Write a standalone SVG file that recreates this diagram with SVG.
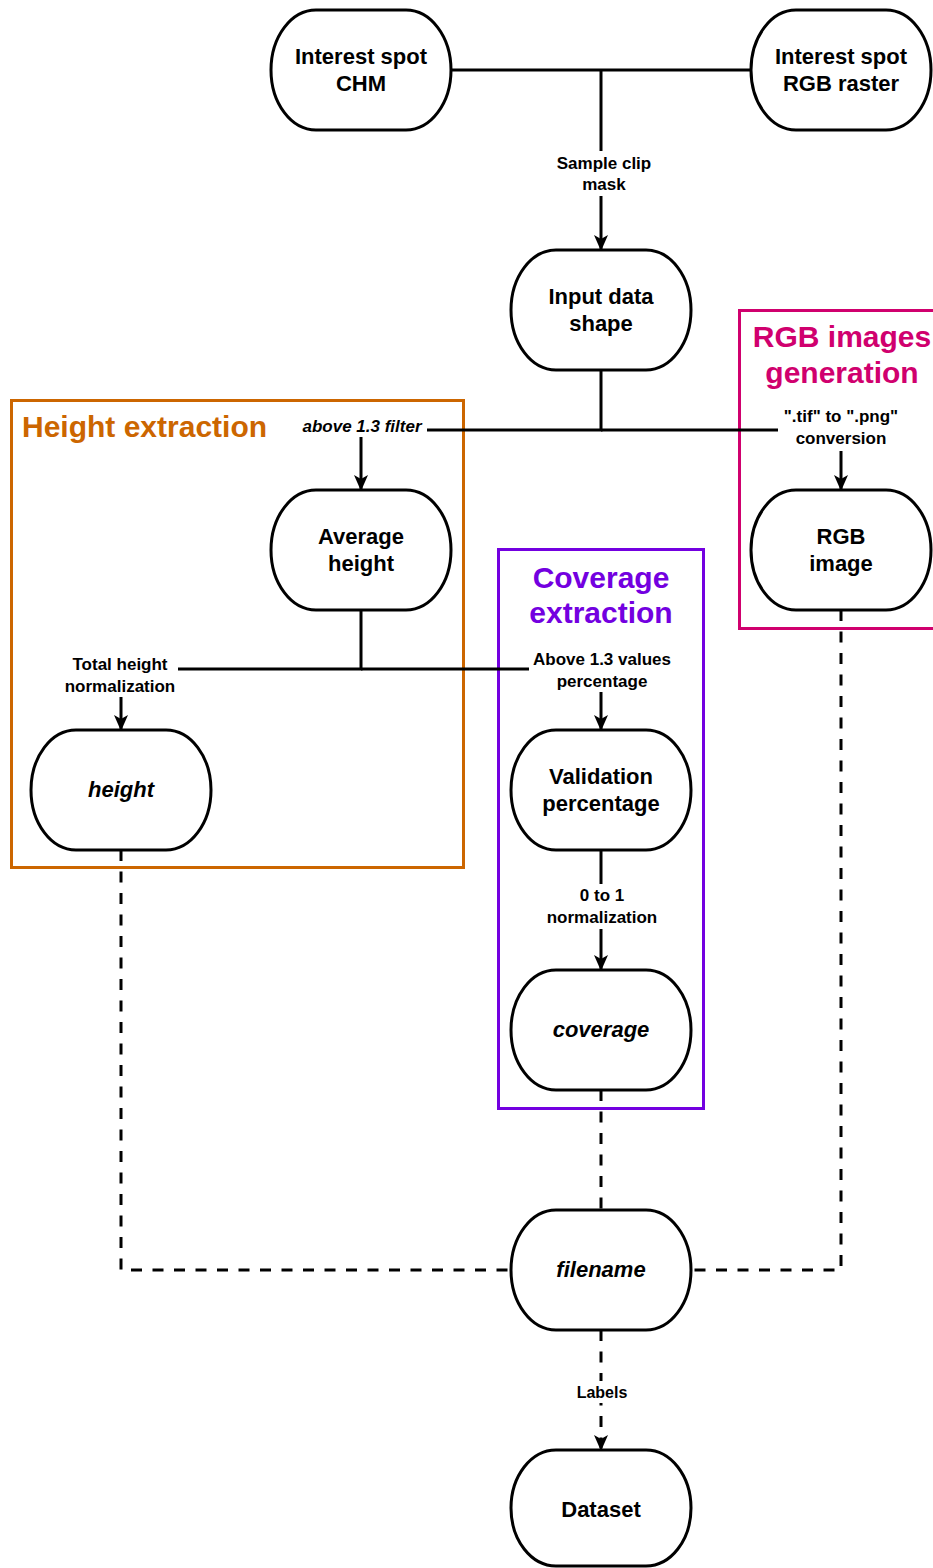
<svg xmlns="http://www.w3.org/2000/svg" width="933" height="1568" viewBox="0 0 933 1568">
  <style>
    .node rect { fill: #ffffff; stroke: #000000; stroke-width: 3; }
    .ntext { font-family: "Liberation Sans", Arial, sans-serif; font-size: 22px; font-weight: bold; fill: #000000; text-anchor: middle; }
    .ital { font-style: italic; }
    .line { fill: none; stroke: #000000; stroke-width: 3; }
    .dash { stroke-dasharray: 11 10.5; }
    .elabel { font-family: "Liberation Sans", Arial, sans-serif; font-size: 17px; font-weight: bold; fill: #000000; text-anchor: middle; }
    .lbg { fill: #ffffff; stroke: none; }
    .gbox { fill: none; stroke-width: 3; }
    .gtitle { font-family: "Liberation Sans", Arial, sans-serif; font-size: 30px; font-weight: bold; }
  </style>
  <defs>
    <marker id="arrow" viewBox="0 0 16 14" refX="15" refY="7" markerWidth="16" markerHeight="14" markerUnits="userSpaceOnUse" orient="auto">
      <path d="M0,0 L16,7 L0,14 L4,7 Z" fill="#000000"/>
    </marker>
  </defs>
  <rect x="0" y="0" width="933" height="1568" fill="#ffffff"/>

  <!-- group containers -->
  <g id="group-height">
    <rect class="gbox" x="11.5" y="400.5" width="452" height="467" stroke="#CC6600"/>
    <text class="gtitle" x="22" y="437" fill="#CC6600">Height extraction</text>
  </g>
  <g id="group-rgb">
    <rect class="gbox" x="739.5" y="310.5" width="200" height="318" stroke="#D0006E"/>
    <text class="gtitle" x="842" y="347" fill="#D0006E" text-anchor="middle">RGB images</text>
    <text class="gtitle" x="842" y="383" fill="#D0006E" text-anchor="middle">generation</text>
  </g>
  <g id="group-coverage">
    <rect class="gbox" x="498.5" y="549.5" width="205" height="559" stroke="#7300E0"/>
    <text class="gtitle" x="601" y="588" fill="#7300E0" text-anchor="middle">Coverage</text>
    <text class="gtitle" x="601" y="623" fill="#7300E0" text-anchor="middle">extraction</text>
  </g>

  <!-- connectors -->
  <g id="connectors">
    <!-- clip sources to input shape -->
    <path class="line" d="M450,70 L751,70"/>
    <path class="line" d="M601,70 L601,250" marker-end="url(#arrow)"/>
    <rect class="lbg" x="552" y="151" width="104" height="45"/>
    <text class="elabel" x="604" y="169">Sample clip</text>
    <text class="elabel" x="604" y="190">mask</text>

    <!-- input shape to average height and RGB image -->
    <path class="line" d="M601,370 L601,430 L361,430 L361,490" marker-end="url(#arrow)"/>
    <path class="line" d="M601,430 L841,430 L841,490" marker-end="url(#arrow)"/>
    <rect class="lbg" x="297" y="416" width="130" height="21"/>
    <text class="elabel ital" x="362" y="432">above 1.3 filter</text>
    <rect class="lbg" x="778" y="405" width="127" height="46"/>
    <text class="elabel" x="841" y="422">".tif" to ".png"</text>
    <text class="elabel" x="841" y="444">conversion</text>

    <!-- average height to height and validation -->
    <path class="line" d="M361,610 L361,669 L121,669 L121,730" marker-end="url(#arrow)"/>
    <path class="line" d="M361,669 L601,669 L601,730" marker-end="url(#arrow)"/>
    <rect class="lbg" x="63" y="652" width="115" height="45"/>
    <text class="elabel" x="120" y="670">Total height</text>
    <text class="elabel" x="120" y="692">normalization</text>
    <rect class="lbg" x="529" y="647" width="146" height="45"/>
    <text class="elabel" x="602" y="665">Above 1.3 values</text>
    <text class="elabel" x="602" y="687">percentage</text>

    <!-- validation to coverage -->
    <path class="line" d="M601,850 L601,970" marker-end="url(#arrow)"/>
    <rect class="lbg" x="543" y="884" width="118" height="45"/>
    <text class="elabel" x="602" y="901">0 to 1</text>
    <text class="elabel" x="602" y="923">normalization</text>

    <!-- outputs gathered by filename -->
    <path class="line dash" d="M121,850 L121,1270 L511,1270"/>
    <path class="line dash" d="M841,610 L841,1270 L691,1270"/>
    <path class="line dash" d="M601,1090 L601,1210"/>
    <path class="line dash" d="M601,1330 L601,1450" marker-end="url(#arrow)"/>
    <rect class="lbg" x="570" y="1381" width="64" height="22"/>
    <text class="elabel" x="602" y="1398" style="font-size:16px">Labels</text>
  </g>

  <!-- nodes -->
  <g id="node-chm" class="node">
    <rect x="271" y="10" width="180" height="120" rx="45" ry="60"/>
    <text class="ntext" x="361" y="64">Interest spot</text>
    <text class="ntext" x="361" y="91">CHM</text>
  </g>
  <g id="node-rgb-raster" class="node">
    <rect x="751" y="10" width="180" height="120" rx="45" ry="60"/>
    <text class="ntext" x="841" y="64">Interest spot</text>
    <text class="ntext" x="841" y="91">RGB raster</text>
  </g>
  <g id="node-input-shape" class="node">
    <rect x="511" y="250" width="180" height="120" rx="45" ry="60"/>
    <text class="ntext" x="601" y="304">Input data</text>
    <text class="ntext" x="601" y="331">shape</text>
  </g>
  <g id="node-average-height" class="node">
    <rect x="271" y="490" width="180" height="120" rx="45" ry="60"/>
    <text class="ntext" x="361" y="544">Average</text>
    <text class="ntext" x="361" y="571">height</text>
  </g>
  <g id="node-rgb-image" class="node">
    <rect x="751" y="490" width="180" height="120" rx="45" ry="60"/>
    <text class="ntext" x="841" y="544">RGB</text>
    <text class="ntext" x="841" y="571">image</text>
  </g>
  <g id="node-height" class="node">
    <rect x="31" y="730" width="180" height="120" rx="45" ry="60"/>
    <text class="ntext ital" x="121" y="797">height</text>
  </g>
  <g id="node-validation" class="node">
    <rect x="511" y="730" width="180" height="120" rx="45" ry="60"/>
    <text class="ntext" x="601" y="784">Validation</text>
    <text class="ntext" x="601" y="811">percentage</text>
  </g>
  <g id="node-coverage" class="node">
    <rect x="511" y="970" width="180" height="120" rx="45" ry="60"/>
    <text class="ntext ital" x="601" y="1037">coverage</text>
  </g>
  <g id="node-filename" class="node">
    <rect x="511" y="1210" width="180" height="120" rx="45" ry="60"/>
    <text class="ntext ital" x="601" y="1277">filename</text>
  </g>
  <g id="node-dataset" class="node">
    <rect x="511" y="1450" width="180" height="116" rx="45" ry="58"/>
    <text class="ntext" x="601" y="1517">Dataset</text>
  </g>
</svg>
